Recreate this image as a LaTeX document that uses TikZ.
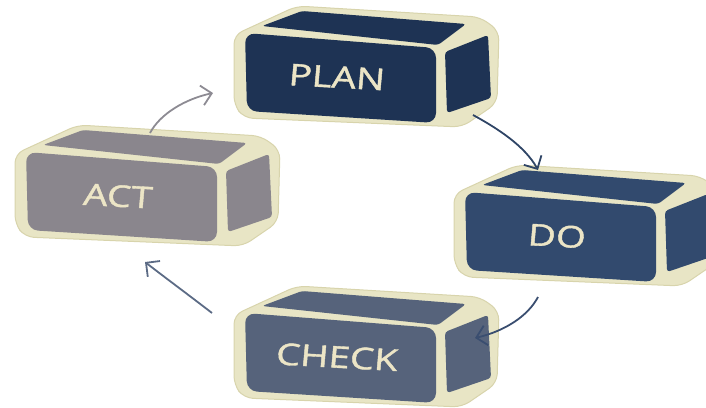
\documentclass[tikz,border=0pt]{standalone}
\usepackage{fontspec}
\setmainfont{Open Sans}
\newfontfamily\labelfont[FakeBold=1.2]{Open Sans}
\usetikzlibrary{arrows.meta}

\definecolor{cream}{HTML}{E8E5C5}
\definecolor{creamedge}{HTML}{D8D4AC}
\definecolor{plancol}{HTML}{1E3354}
\definecolor{docol}{HTML}{324A6E}
\definecolor{checkcol}{HTML}{56637B}
\definecolor{actcol}{HTML}{8A868D}
\definecolor{labelcol}{HTML}{ECE5C6}
\definecolor{arrowA}{HTML}{8D8B93}
\definecolor{arrowB}{HTML}{2F4566}
\definecolor{arrowC}{HTML}{3A4E70}
\definecolor{arrowD}{HTML}{5C6B85}

\tikzset{
  boxlabel/.style={text=labelcol, font=\labelfont\fontsize{30}{30}\selectfont, xscale=1.28, rotate=-4, inner sep=0pt},
  cyclearrow/.style={line width=1.8pt, -{Straight Barb[length=10pt,width=20pt,line width=1.8pt]}},
}

% one bevelled block: x shift, y shift, face colour, node name, label
\newcommand{\pdcablock}[5]{%
  \begin{scope}[shift={(#1,#2)}]
    \filldraw[fill=cream, draw=creamedge, line width=1pt, rounded corners=9pt]
      (234,35) -- (297,6) -- (480,17) -- (499,31) -- (497,103) -- (462,127)
      -- (244,118) -- (234,105) -- cycle;
    \fill[#3, rounded corners=3pt] (262,26) -- (302,11) -- (466,24) -- (438,45) -- cycle;
    \fill[#3, rounded corners=3pt] (445,52) -- (488,35) -- (491,98) -- (447,113) -- cycle;
    \fill[#3, rounded corners=10pt] (245,33) -- (436,48) -- (436,123) -- (247,111) -- cycle;
    \node[boxlabel] (#4) at (337,77) {#5};
  \end{scope}}

\begin{document}
\begin{tikzpicture}[x=1pt, y=-1pt]
  \useasboundingbox (0,0) rectangle (706,407);
  \clip (0,0) rectangle (706,407);

  \pdcablock{0}{0}{plancol}{plan}{PLAN}
  \pdcablock{220}{159}{docol}{do}{DO}
  \pdcablock{0}{280}{checkcol}{check}{CHECK}
  \pdcablock{-219}{119}{actcol}{act}{ACT}

  % connector end points on the block edges
  \coordinate (act-out)   at (150,133);
  \coordinate (plan-in)   at (213,93);
  \coordinate (plan-out)  at (473,115);
  \coordinate (do-in)     at (538,170);
  \coordinate (do-out)    at (538,297);
  \coordinate (check-in)  at (475,338);
  \coordinate (check-out) at (212,313);
  \coordinate (act-in)    at (145,262);

  \draw[cyclearrow, arrowA] (act-out) .. controls (160,114) and (185,99) .. (plan-in);
  \draw[cyclearrow, arrowB] (plan-out) .. controls (497,128) and (525,146) .. (do-in);
  \draw[cyclearrow, arrowC] (do-out) .. controls (528,316) and (505,331) .. (check-in);
  \draw[cyclearrow, arrowD] (check-out) .. controls (190,296) and (163,276) .. (act-in);
\end{tikzpicture}
\end{document}
